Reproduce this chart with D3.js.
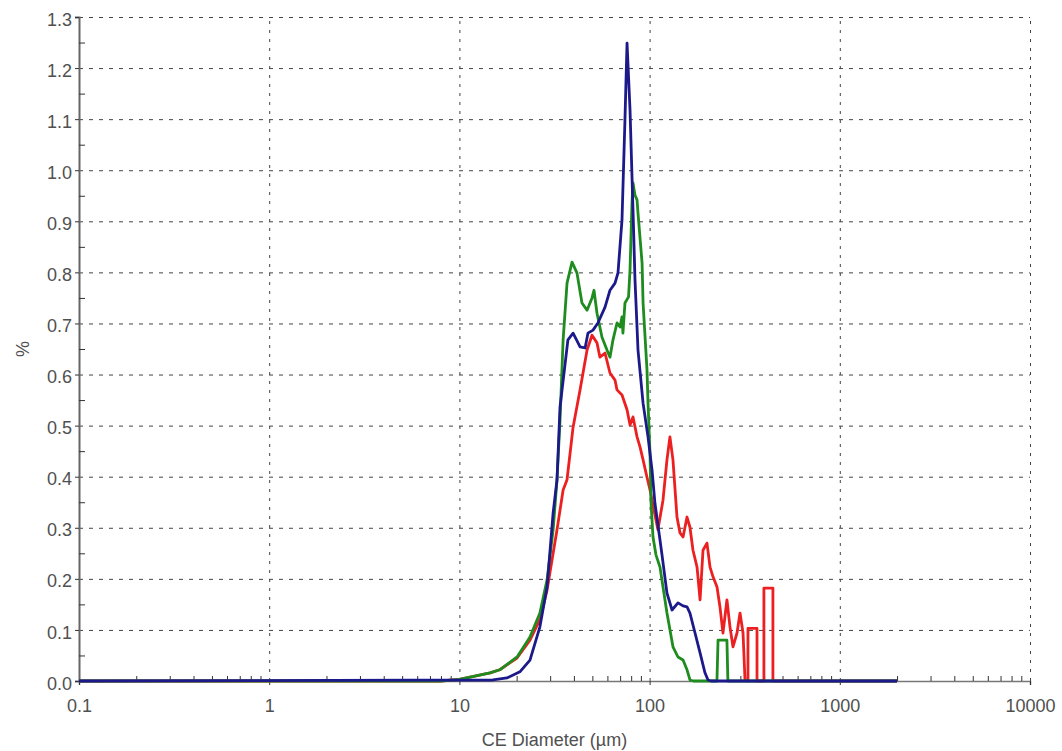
<!DOCTYPE html>
<html>
<head>
<meta charset="utf-8">
<script src="https://cdn.jsdelivr.net/npm/d3@7"></script>
<style>
  body { margin: 0; background: #ffffff; }
  text { font-family: "Liberation Sans", Arial, sans-serif; }
</style>
</head>
<body>
<div id="container"></div>
<script>
// tick values and labels
var xMajor = [0.1, 1, 10, 100, 1000, 10000]
var xLabels = ['0.1', '1', '10', '100', '1000', '10000']
var yMajor = [0, 0.1, 0.2, 0.3, 0.4, 0.5, 0.6, 0.7, 0.8, 0.9, 1.0, 1.1, 1.2, 1.3]
var yMinor = [0.05, 0.15, 0.25, 0.35, 0.45, 0.55, 0.65, 0.75, 0.85, 0.95, 1.05, 1.15, 1.25]

// series: [diameter (um), percent]
var redSeries = [
  [0.1, 0], [8, 0], [10, 0.003], [14.5, 0.016], [16.3, 0.022], [20.1, 0.045], [23.5, 0.08],
  [26.5, 0.12], [28.9, 0.178], [32.6, 0.296], [35.1, 0.374], [36.8, 0.394], [39.6, 0.497],
  [43.1, 0.57], [46.9, 0.648], [49.8, 0.677], [52.9, 0.662], [54.8, 0.634], [58.3, 0.642],
  [61.9, 0.603], [65.8, 0.589], [67.4, 0.57], [71.6, 0.56], [76.1, 0.531], [78.9, 0.501],
  [81.8, 0.517], [85.9, 0.478], [89.1, 0.458], [92.4, 0.433], [96.9, 0.399], [100.5, 0.374],
  [106.7, 0.325], [110.6, 0.296], [117.6, 0.354], [123.4, 0.433], [127.9, 0.478], [132.7, 0.433],
  [139.3, 0.321], [144.5, 0.29], [149.9, 0.282], [157.3, 0.321], [163, 0.301], [169.1, 0.256],
  [177.6, 0.223], [184.2, 0.159], [190.9, 0.256], [200.3, 0.27], [207.8, 0.223], [215.5, 0.204],
  [226.2, 0.184], [234.4, 0.145], [243.1, 0.094], [255.1, 0.159], [264.6, 0.106], [274.4, 0.067],
  [288.1, 0.094], [298.8, 0.133], [309.9, 0.094], [317.4, 0.002], [329, 0], [329, 0.103],
  [367, 0.103], [367, 0], [399, 0], [399, 0.182], [445, 0.182], [445, 0], [2000, 0]
]

var greenSeries = [
  [0.1, 0], [8, 0], [10, 0.003], [14.5, 0.016], [16.3, 0.022], [20.1, 0.047], [23.5, 0.086],
  [26.5, 0.133], [28.9, 0.198], [31.1, 0.296], [32.6, 0.394], [33.8, 0.51], [35.1, 0.668],
  [36.8, 0.779], [39.1, 0.82], [41.5, 0.799], [44.1, 0.74], [46.9, 0.726], [49.8, 0.75],
  [51.0, 0.765], [52.9, 0.72], [56.2, 0.673], [59.7, 0.648], [61.9, 0.634], [64.2, 0.668],
  [67.4, 0.701], [69.9, 0.693], [71.6, 0.713], [72.4, 0.681], [74.2, 0.74], [77.5, 0.752],
  [78.9, 0.805], [80.8, 0.936], [81.8, 0.975], [83.8, 0.951], [85.9, 0.942], [86.9, 0.916],
  [91.3, 0.818], [92.4, 0.74], [96.9, 0.609], [98.1, 0.544], [100.5, 0.446], [101.7, 0.35],
  [104.2, 0.282], [108, 0.247], [113.4, 0.223], [123.4, 0.133], [132.7, 0.067], [141, 0.047],
  [149.9, 0.041], [157.3, 0.022], [163, 0.002], [170, 0], [226, 0], [229, 0.08], [255, 0.08],
  [258, 0], [2000, 0]
]

var blueSeries = [
  [0.1, 0], [15, 0.002], [17.8, 0.006], [20.8, 0.018], [23.5, 0.041], [26.5, 0.106],
  [28.9, 0.184], [31.1, 0.329], [32.6, 0.394], [33.8, 0.536], [37.2, 0.668], [39.6, 0.681],
  [43.1, 0.654], [45.8, 0.652], [47.4, 0.681], [50.4, 0.687], [53.5, 0.701], [58.3, 0.732],
  [61.9, 0.765], [65.8, 0.779], [68.2, 0.799], [71.6, 0.903], [74.2, 1.098], [76.1, 1.249],
  [78.9, 1.118], [81.8, 0.922], [83.8, 0.785], [86.9, 0.648], [92.4, 0.544], [98.1, 0.478],
  [103, 0.413], [106.7, 0.348], [113.4, 0.276], [116.2, 0.247], [123.4, 0.172], [131.2, 0.139],
  [141, 0.153], [149.9, 0.147], [157.3, 0.145], [163, 0.133], [173.3, 0.094], [184.2, 0.055],
  [195.5, 0.016], [202.8, 0.002], [210, 0], [2000, 0]
]

var width = 1062
var height = 751
var plotLeft = 79, plotRight = 1030, plotTop = 17, plotBottom = 681

var svg = d3.select('#container').append('svg')
    .attr('width', width)
    .attr('height', height)

var x = d3.scaleLog().domain([0.1, 10000]).range([plotLeft, plotRight])
var y = d3.scaleLinear().domain([0, 1.3]).range([plotBottom, plotTop])

// grid
var yGrid = svg.append('g')
    .attr('transform', 'translate(' + plotLeft + ',0)')
    .call(d3.axisLeft(y).tickValues(yMajor.slice(1)).tickSize(-(plotRight - plotLeft)).tickFormat(''))
yGrid.select('.domain').remove()
yGrid.selectAll('line')
    .attr('stroke', '#444')
    .attr('stroke-dasharray', '4,6')

var xGrid = svg.append('g')
    .attr('transform', 'translate(0,' + plotBottom + ')')
    .call(d3.axisBottom(x).tickValues(xMajor.slice(1)).tickSize(-(plotBottom - plotTop)).tickFormat(''))
xGrid.select('.domain').remove()
xGrid.selectAll('line')
    .attr('stroke', '#444')
    .attr('stroke-dasharray', '3,6')

// x axis
var xMinor = []
xMajor.slice(0, -1).forEach(function(m){
    for(var k = 2; k < 10; k++) xMinor.push(m * k)
})

var xAxis = svg.append('g')
    .attr('transform', 'translate(0,' + plotBottom + ')')
    .call(d3.axisBottom(x).tickValues(xMajor).tickSize(4).tickPadding(14)
        .tickFormat(function(d, i){ return xLabels[i] }))
xAxis.select('.domain').attr('stroke', '#777').attr('stroke-width', 1.5)
xAxis.selectAll('line').attr('stroke', '#333')
xAxis.selectAll('text')
    .attr('font-size', 18)
    .attr('fill', '#505050')

svg.append('g')
    .attr('transform', 'translate(0,' + plotBottom + ')')
    .call(d3.axisTop(x).tickValues(xMinor).tickSize(5).tickFormat(''))
    .call(function(g){ g.select('.domain').remove() })
    .selectAll('line').attr('stroke', '#333')

// y axis
var yAxis = svg.append('g')
    .attr('transform', 'translate(' + plotLeft + ',0)')
    .call(d3.axisLeft(y).tickValues(yMajor).tickSize(4).tickPadding(3).tickFormat(d3.format('.1f')))
yAxis.select('.domain').attr('stroke', '#666').attr('stroke-width', 2)
yAxis.selectAll('line').attr('stroke', '#333')
yAxis.selectAll('text')
    .attr('font-size', 18)
    .attr('fill', '#505050')
    .attr('dy', '0.45em')

svg.append('g')
    .attr('transform', 'translate(' + plotLeft + ',0)')
    .call(d3.axisRight(y).tickValues(yMinor).tickSize(6).tickFormat(''))
    .call(function(g){ g.select('.domain').remove() })
    .selectAll('line').attr('stroke', '#333')

// titles
svg.append('text')
    .attr('x', (plotLeft + plotRight) / 2)
    .attr('y', 746)
    .attr('text-anchor', 'middle')
    .attr('font-size', 18)
    .attr('fill', '#505050')
    .text('CE Diameter (µm)')

svg.append('text')
    .attr('transform', 'translate(29,' + ((plotTop + plotBottom) / 2) + ') rotate(-90)')
    .attr('text-anchor', 'middle')
    .attr('font-size', 18)
    .attr('fill', '#505050')
    .text('%')

// curves
var line = d3.line()
    .x(function(d){ return x(d[0]) })
    .y(function(d){ return y(d[1]) })

var series = [
    { data: redSeries, color: '#ec2020' },
    { data: greenSeries, color: '#1e8c1e' },
    { data: blueSeries, color: '#1c1a8a' }
]

series.forEach(function(s){
    svg.append('path')
        .datum(s.data)
        .attr('d', line)
        .attr('fill', 'none')
        .attr('stroke', s.color)
        .attr('stroke-width', 2.8)
        .attr('stroke-linejoin', 'round')
})
</script>
</body>
</html>
